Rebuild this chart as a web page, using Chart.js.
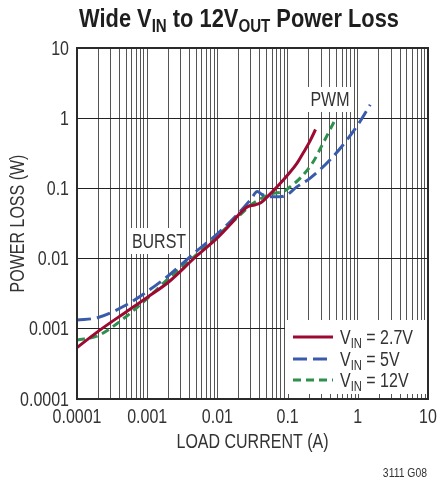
<!DOCTYPE html>
<html>
<head>
<meta charset="utf-8">
<script src="https://cdn.jsdelivr.net/npm/chart.js@4"></script>
<style>
  body { margin: 0; background: #fff; }
  canvas { display: block; }
</style>
</head>
<body>
<canvas id="lossChart" width="437" height="483"></canvas>
<script>
// values
const current27 = [0.0001, 0.0002, 0.0005, 0.001, 0.002, 0.005, 0.01, 0.015, 0.02, 0.027, 0.034, 0.042, 0.05, 0.063, 0.08, 0.1, 0.135, 0.17, 0.21, 0.25];
const loss27 = [0.00054, 0.00092, 0.00174, 0.0028, 0.0046, 0.0108, 0.0197, 0.03, 0.042, 0.055, 0.058, 0.063, 0.074, 0.093, 0.12, 0.155, 0.225, 0.33, 0.48, 0.69];

const current5 = [0.0001, 0.0002, 0.0005, 0.001, 0.002, 0.005, 0.01, 0.019, 0.03, 0.037, 0.043, 0.05, 0.06, 0.078, 0.097, 0.135, 0.21, 0.4, 0.7, 1.07, 1.5];
const loss5 = [0.00133, 0.00145, 0.00218, 0.0034, 0.0057, 0.0127, 0.0225, 0.042, 0.07, 0.09, 0.082, 0.077, 0.076, 0.076, 0.08, 0.105, 0.14, 0.254, 0.49, 0.89, 1.55];

const current12 = [0.0001, 0.0002, 0.0005, 0.001, 0.002, 0.005, 0.01, 0.02, 0.03, 0.04, 0.05, 0.063, 0.087, 0.108, 0.15, 0.232, 0.32, 0.48];
const loss12 = [0.00069, 0.0008, 0.00149, 0.0027, 0.0052, 0.0113, 0.021, 0.04, 0.058, 0.07, 0.078, 0.085, 0.09, 0.105, 0.139, 0.24, 0.44, 0.97];

const decades = [0.0001, 0.001, 0.01, 0.1, 1, 10];
const decadeLabels = ['0.0001', '0.001', '0.01', '0.1', '1', '10'];

const seriesNames = ['2.7V', '5V', '12V'];
const seriesColors = ['#9c0a32', '#3a5bab', '#2f8f4c'];
const seriesDashes = [[], [14, 6], [8, 5]];

const FONT = '"Liberation Sans", Arial, sans-serif';
const SQUEEZE = 0.8; // the original uses a condensed face

function zip(xs, ys) {
  return xs.map((x, i) => ({ x: x, y: ys[i] }));
}

// every 1..9 step of each decade for the vertical grid
const xGridValues = [];
decades.forEach((d, i) => {
  if (i === decades.length - 1) { xGridValues.push(d); return; }
  for (let k = 1; k < 10; k++) xGridValues.push(d * k);
});

// narrow text: draws with a horizontal squeeze
function text(ctx, s, x, y, size, align, opts) {
  opts = opts || {};
  ctx.save();
  ctx.translate(x, y);
  if (opts.rotate) ctx.rotate(opts.rotate);
  ctx.scale(opts.sx || SQUEEZE, 1);
  ctx.font = (opts.weight || 'normal') + ' ' + size + 'px ' + FONT;
  ctx.textAlign = align;
  ctx.textBaseline = opts.baseline || 'middle';
  ctx.fillText(s, 0, 0);
  ctx.restore();
}

function drawRich(ctx, parts, x, y, size, subSize, weight, align, sx) {
  const fonts = parts.map(p => weight + ' ' + (p.sub ? subSize : size) + 'px ' + FONT);
  let total = 0;
  const widths = parts.map((p, i) => { ctx.font = fonts[i]; const w = ctx.measureText(p.t).width; total += w; return w; });
  ctx.save();
  ctx.translate(align === 'center' ? x - total * sx / 2 : x, y);
  ctx.scale(sx, 1);
  ctx.textAlign = 'left';
  ctx.textBaseline = 'alphabetic';
  let cx = 0;
  parts.forEach((p, i) => {
    ctx.font = fonts[i];
    ctx.fillText(p.t, cx, p.sub ? size * 0.2 : 0);
    cx += widths[i];
  });
  ctx.restore();
}

const decorations = {
  id: 'decorations',
  beforeDatasetsDraw(chart) {
    const ctx = chart.ctx;
    const a = chart.chartArea;
    const xs = chart.scales.x;
    ctx.save();
    ctx.fillStyle = '#fff';
    // legend box
    ctx.fillRect(285, 320, a.right - 285, a.bottom - 320);
    // label boxes
    ctx.fillRect(129, 228, 59, 26);
    ctx.fillRect(308, 87, 44, 25);
    // short ticks along the bottom inside the legend box
    ctx.strokeStyle = '#555';
    ctx.lineWidth = 1;
    xGridValues.forEach(v => {
      const px = Math.round(xs.getPixelForValue(v)) + 0.5;
      if (px > 286 && px < a.right - 1) {
        ctx.beginPath();
        ctx.moveTo(px, a.bottom);
        ctx.lineTo(px, a.bottom - 5);
        ctx.stroke();
      }
    });
    ctx.restore();
  },
  afterDatasetsDraw(chart) {
    const ctx = chart.ctx;
    const a = chart.chartArea;
    ctx.save();
    ctx.strokeStyle = '#2a2a2a';
    ctx.lineWidth = 2;
    ctx.strokeRect(a.left, a.top, a.right - a.left, a.bottom - a.top);
    ctx.restore();
  },
  afterDraw(chart) {
    const ctx = chart.ctx;
    const a = chart.chartArea;
    const xs = chart.scales.x;
    const ys = chart.scales.y;
    ctx.save();
    // title
    ctx.fillStyle = '#1e1e1e';
    drawRich(ctx, [
      { t: 'Wide V' }, { t: 'IN', sub: true }, { t: ' to 12V' }, { t: 'OUT', sub: true }, { t: ' Power Loss' }
    ], 239, 27, 26, 18, 'bold', 'center', 0.84);

    ctx.fillStyle = '#333';
    // tick labels
    decades.forEach((d, i) => {
      text(ctx, decadeLabels[i], xs.getPixelForValue(d), 417, 20, 'center');
      text(ctx, decadeLabels[i], 69, ys.getPixelForValue(d) + 1, 20, 'right');
    });

    text(ctx, 'LOAD CURRENT (A)', (a.left + a.right) / 2, 442, 20, 'center');
    text(ctx, 'BURST', 159, 242, 20, 'center');
    text(ctx, 'PWM', 330, 100, 20, 'center');
    text(ctx, 'POWER LOSS (W)', 18, (a.top + a.bottom) / 2, 20, 'center', { rotate: -Math.PI / 2 });
    text(ctx, '3111 G08', 427, 473, 13, 'right');

    // legend
    const rows = [337, 359, 380];
    seriesNames.forEach((name, i) => {
      ctx.strokeStyle = seriesColors[i];
      ctx.lineWidth = 3;
      ctx.setLineDash(seriesDashes[i]);
      ctx.beginPath();
      ctx.moveTo(293, rows[i]);
      ctx.lineTo(333, rows[i]);
      ctx.stroke();
      ctx.setLineDash([]);
      ctx.fillStyle = '#333';
      drawRich(ctx, [{ t: 'V' }, { t: 'IN', sub: true }, { t: ' = ' + name }], 340, rows[i] + 7, 20, 14, 'normal', 'left', SQUEEZE);
    });
    ctx.restore();
  }
};

const datasets = [zip(current27, loss27), zip(current5, loss5), zip(current12, loss12)].map((pts, i) => ({
  label: 'VIN = ' + seriesNames[i],
  data: pts,
  showLine: true,
  borderColor: seriesColors[i],
  backgroundColor: seriesColors[i],
  borderWidth: 3,
  borderDash: seriesDashes[i],
  pointRadius: 0,
  cubicInterpolationMode: 'monotone'
}));

new Chart(document.getElementById('lossChart'), {
  type: 'scatter',
  data: { datasets: datasets },
  options: {
    responsive: false,
    animation: false,
    layout: { padding: { top: 48, right: 9, left: 0, bottom: 0 } },
    plugins: { legend: { display: false }, tooltip: { enabled: false } },
    scales: {
      x: {
        type: 'logarithmic',
        min: 0.0001,
        max: 10,
        afterBuildTicks: s => { s.ticks = xGridValues.map(v => ({ value: v })); },
        afterFit: s => { s.height = 84; },
        ticks: { display: false, autoSkip: false },
        grid: { color: '#555', lineWidth: 1, drawTicks: false },
        border: { display: false }
      },
      y: {
        type: 'logarithmic',
        min: 0.0001,
        max: 10,
        afterBuildTicks: s => { s.ticks = decades.map(v => ({ value: v })); },
        afterFit: s => { s.width = 77; },
        ticks: { display: false, autoSkip: false },
        grid: { color: '#222', lineWidth: 1, drawTicks: false },
        border: { display: false }
      }
    }
  },
  plugins: [decorations]
});
</script>
</body>
</html>
